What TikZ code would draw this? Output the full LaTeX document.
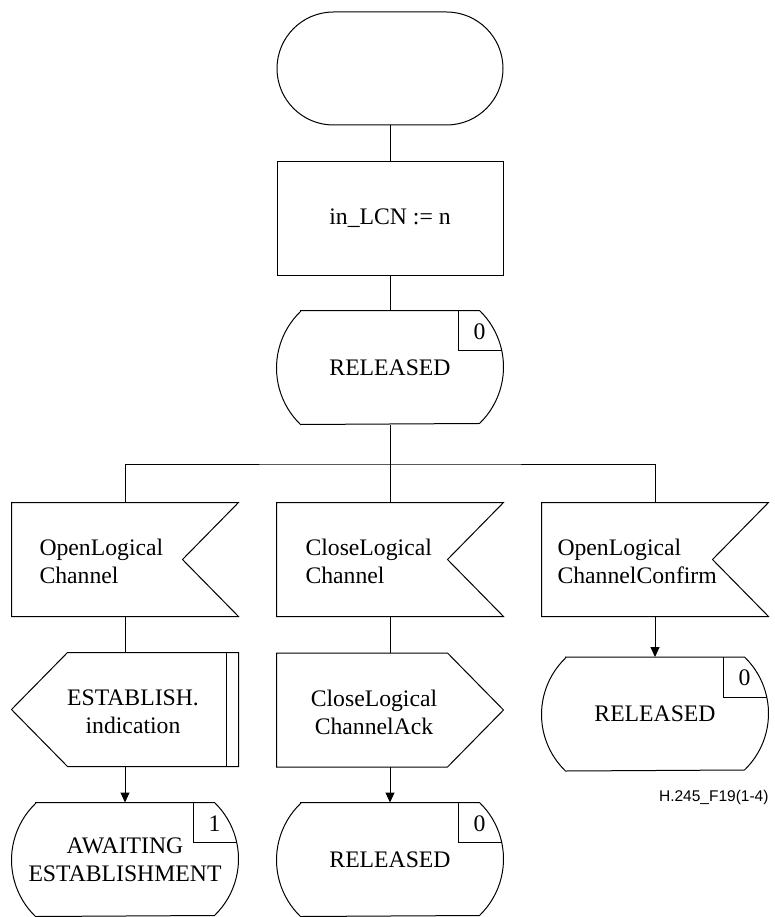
\documentclass[tikz,border=0pt]{standalone}
\usepackage{fontspec}
\setmainfont{Liberation Serif}
\newfontfamily\labelsans{Liberation Sans}
\usetikzlibrary{arrows.meta}
\newcommand\sdlState[5]{%
  \node[frame] (#1) at (#2,#3) {#4};
  \draw[outline] ([xshift=24pt]#1.north west) -- ([xshift=-24pt]#1.north east)
     arc[start angle=46.03, end angle=-46.03, radius=78.5pt]
     -- ([xshift=24pt]#1.south west)
     arc[start angle=226.03, end angle=133.97, radius=78.5pt] -- cycle;
  \draw[outline] ([xshift=-45pt]#1.north east) -- ([xshift=-45pt,yshift=-40pt]#1.north east)
     -- ([xshift=-1.8pt,yshift=-40pt]#1.north east);
  \node[num] (#1n) at ([xshift=-24pt,yshift=-21pt]#1.north east) {#5};
}
\begin{document}
\begin{tikzpicture}[x=1pt,y=-1pt,line width=1pt,
  every node/.style={font=\fontsize{23.7}{28}\selectfont},
  frame/.style={draw=none,minimum width=226pt,minimum height=113pt,inner sep=0pt,align=center},
  outline/.style={draw=black,line width=1pt,line join=miter},
  conn/.style={draw,line width=1pt},
  arr/.style={conn,-{Triangle[length=10pt,width=9pt]}},
  txt/.style={inner sep=0pt,align=left,anchor=west},
  num/.style={inner sep=0pt}]
\useasboundingbox (0,0) rectangle (775,917);

% start
\node[frame,draw,rounded corners=56.5pt] (start) at (390,68.5) {};
% task
\node[frame,draw] (task) at (390,218.5) {in\_LCN := n};
% state RELEASED
\sdlState{rel0}{390}{367.5}{RELEASED}{0}
\coordinate (bm) at (390,464);

% inputs
\node[frame] (in1) at (125,559.5) {};
\draw[outline] (in1.north west) -- (in1.north east) -- ([xshift=-56pt]in1.east) -- (in1.south east) -- (in1.south west) -- cycle;
\node[txt] (in1t) at (39,561) {OpenLogical\\Channel};

\node[frame] (in2) at (390,559.5) {};
\draw[outline] (in2.north west) -- (in2.north east) -- ([xshift=-56pt]in2.east) -- (in2.south east) -- (in2.south west) -- cycle;
\node[txt] (in2t) at (305,561) {CloseLogical\\Channel};

\node[frame] (in3) at (655,559.5) {};
\draw[outline] (in3.north west) -- (in3.north east) -- ([xshift=-56pt]in3.east) -- (in3.south east) -- (in3.south west) -- cycle;
\node[txt] (in3t) at (557,561) {OpenLogical\\ChannelConfirm};

% outputs
\node[frame] (out1) at (125,709.5) {};
\draw[outline] ([xshift=56pt]out1.north west) -- (out1.north east) -- (out1.south east) -- ([xshift=56pt]out1.south west) -- (out1.west) -- cycle;
\draw[outline] ([xshift=-12pt]out1.north east) -- ([xshift=-12pt]out1.south east);
\node[inner sep=0pt,align=center] (out1t) at (133,712) {ESTABLISH.\\indication};

\node[frame] (out2) at (390,710) {};
\draw[outline] (out2.north west) -- ([xshift=-56pt]out2.north east) -- (out2.east) -- ([xshift=-56pt]out2.south east) -- (out2.south west) -- cycle;
\node[inner sep=0pt,align=center] (out2t) at (374,712) {CloseLogical\\ChannelAck};

% final states
\sdlState{aw}{125}{859.5}{AWAITING\\ESTABLISHMENT}{1}
\sdlState{rel2}{390}{859.5}{RELEASED}{0}
\sdlState{rel3}{655}{714}{RELEASED}{0}

% connectors
\draw[conn] (start.south) -- (task.north);
\draw[conn] (task.south) -- (rel0.north);
\draw[conn] (rel0.south) -- (bm);
\draw[conn] (in1.north) |- (bm) -| (in3.north);
\draw[conn] (bm) -- (in2.north);
\draw[conn] (in1.south) -- (out1.north);
\draw[arr] (out1.south) -- (aw.north);
\draw[conn] (in2.south) -- (out2.north);
\draw[arr] (out2.south) -- (rel2.north);
\draw[arr] (in3.south) -- (rel3.north);

% figure label
\node[inner sep=0pt,anchor=base east,font=\labelsans\fontsize{15.5}{18}\selectfont] (figlabel) at (769,801) {H.245\_F19(1-4)};
\end{tikzpicture}
\end{document}
